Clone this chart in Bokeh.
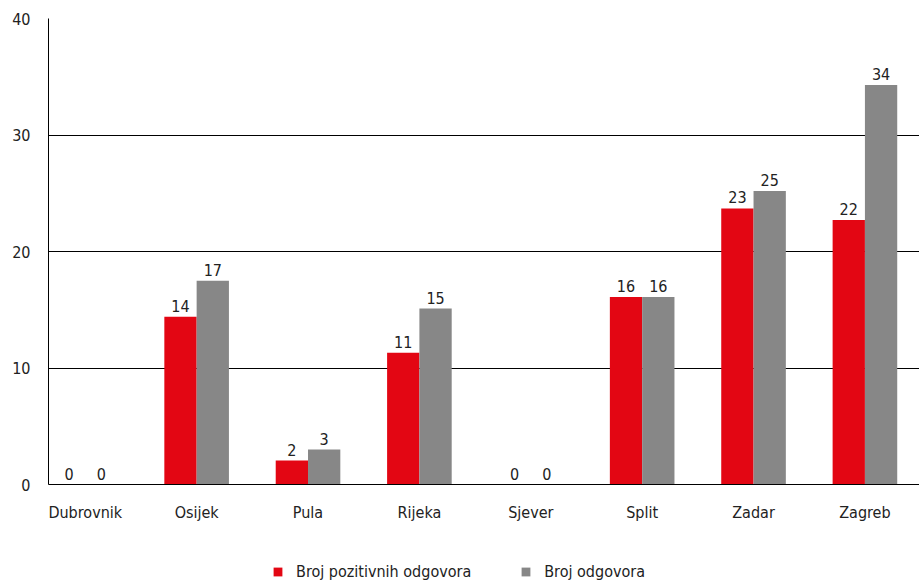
import numpy as np
from bokeh.plotting import figure
from bokeh.layouts import column
from bokeh.models import ColumnDataSource, Range1d, Legend, LegendItem, FixedTicker
from bokeh.core.properties import value
from bokeh.embed import file_html
from bokeh.resources import INLINE

categories = ["Dubrovnik", "Osijek", "Pula", "Rijeka", "Sjever", "Split", "Zadar", "Zagreb"]
positive = [0, 14.4, 2.06, 11.3, 0, 16.1, 23.7, 22.7]
total = [0, 17.5, 3.0, 15.1, 0, 16.1, 25.2, 34.3]
positive_labels = ["0", "14", "2", "11", "0", "16", "23", "22"]
total_labels = ["0", "17", "3", "15", "0", "16", "25", "34"]
y_ticks = [0, 10, 20, 30, 40]
series_names = ["Broj pozitivnih odgovora", "Broj odgovora"]

FONT = "'DejaVu Sans Condensed', Roboto, sans-serif"
FS = "16px"
RED = "#E30613"
GRAY = "#878787"
TXT = "#222222"

idx = np.arange(len(categories))
off = 0.145
w = 0.29

src_p = ColumnDataSource(dict(x=idx - off, top=positive, lab=positive_labels))
src_t = ColumnDataSource(dict(x=idx + off, top=total, lab=total_labels))

p = figure(width=919, height=545, output_backend="svg", toolbar_location=None,
           x_range=Range1d(-0.33, 7.49), y_range=Range1d(0, 40),
           min_border_left=48, min_border_right=0, min_border_top=18, min_border_bottom=61)
p.outline_line_color = None
p.background_fill_color = "white"
p.border_fill_color = "white"

r1 = p.vbar(x="x", top="top", width=w, source=src_p, color=RED, line_color=None)
r2 = p.vbar(x="x", top="top", width=w, source=src_t, color=GRAY, line_color=None)

for src in (src_p, src_t):
    p.text(x="x", y="top", text="lab", source=src, text_align="center", text_baseline="bottom",
           y_offset=-5, text_font=value(FONT), text_font_size=FS, text_color=TXT)

p.xgrid.grid_line_color = None
p.ygrid.grid_line_color = "black"
p.ygrid.grid_line_width = 1
p.ygrid.ticker = FixedTicker(ticks=y_ticks)

p.yaxis.ticker = FixedTicker(ticks=y_ticks)
p.yaxis.axis_line_color = "black"
p.yaxis.major_tick_line_color = None
p.yaxis.minor_tick_line_color = None
p.yaxis.major_tick_out = 0
p.yaxis.minor_tick_out = 0
p.yaxis.major_label_standoff = 18
p.yaxis.major_label_text_font = FONT
p.yaxis.major_label_text_font_size = FS
p.yaxis.major_label_text_color = TXT

p.xaxis.ticker = FixedTicker(ticks=list(idx))
p.xaxis.major_label_overrides = {int(i): c for i, c in zip(idx, categories)}
p.xaxis.axis_line_color = "black"
p.xaxis.major_tick_line_color = None
p.xaxis.minor_tick_line_color = None
p.xaxis.major_tick_out = 0
p.xaxis.minor_tick_out = 0
p.xaxis.major_label_standoff = 18
p.xaxis.major_label_text_font = FONT
p.xaxis.major_label_text_font_size = FS
p.xaxis.major_label_text_color = TXT

# legend strip below the chart (its frame is aligned with the chart's frame)
lg = figure(width=919, height=39, output_backend="svg", toolbar_location=None,
            x_range=Range1d(0, 1), y_range=Range1d(0, 1),
            x_axis_type=None, y_axis_type=None, min_border=0)
lg.outline_line_color = None
lg.xgrid.grid_line_color = None
lg.ygrid.grid_line_color = None
# legend swatches: glyphs placed outside the visible range, shown only in the legend
d1 = lg.vbar(x=[5], top=[5], width=1, color=RED, line_color=None)
d2 = lg.vbar(x=[5], top=[5], width=1, color=GRAY, line_color=None)
legend = Legend(items=[LegendItem(label=series_names[0], renderers=[d1]),
                       LegendItem(label=series_names[1], renderers=[d2])],
                orientation="horizontal", location=(224, 3),
                glyph_width=11, glyph_height=11, label_standoff=13, spacing=49,
                label_text_font=FONT, label_text_font_size=FS, label_text_color=TXT,
                background_fill_alpha=0, border_line_color=None, padding=0, margin=0)
lg.add_layout(legend, "center")

layout = column(p, lg, spacing=0)
open("out.html", "w").write(file_html(layout, INLINE))
